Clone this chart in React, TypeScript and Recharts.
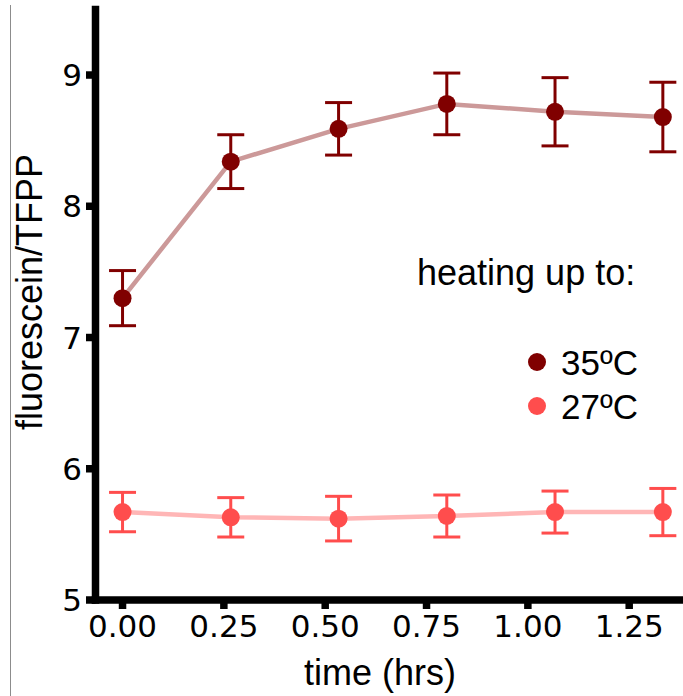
import React from 'react';
import { ComposedChart, Line, XAxis, YAxis, ErrorBar, Legend } from 'recharts';

// ---- data ----
const timeHrs = [0, 0.267, 0.533, 0.8, 1.067, 1.333];
const heat35 = [7.3, 8.34, 8.59, 8.78, 8.72, 8.68];
const heat35Err = [0.21, 0.205, 0.2, 0.235, 0.26, 0.265];
const heat27 = [5.67, 5.63, 5.62, 5.64, 5.67, 5.67];
const heat27Err = [0.15, 0.15, 0.17, 0.16, 0.16, 0.18];
const xTicks = [0, 0.25, 0.5, 0.75, 1.0, 1.25];
const yTicks = [5, 6, 7, 8, 9];
const seriesNames = ['35ºC', '27ºC'];
const legendTitle = 'heating up to:';
const xTitle = 'time (hrs)';
const yTitle = 'fluorescein/TFPP';

const data = timeHrs.map((t, i) => ({
  time: t,
  hot: heat35[i],
  hotErr: heat35Err[i],
  cool: heat27[i],
  coolErr: heat27Err[i],
}));

// ---- styles ----
const HOT = '#800000';
const HOT_LINE = '#cc9999';
const COOL = '#ff4d4d';
const COOL_LINE = '#ffb6b6';
const TITLE_FONT = '"Liberation Sans", Arial, sans-serif';
const TICK_FONT = '"DejaVu Sans", sans-serif';
const AXIS_W = 7.5;

const axisLine = { stroke: '#000', strokeWidth: AXIS_W, strokeLinecap: 'square' as const };
const tickLine = { stroke: '#000', strokeWidth: AXIS_W };
const tickStyle = { fontSize: 31, fontFamily: TICK_FONT, fill: '#000' };

const renderYTitle = () => (
  <text
    x={42}
    y={292}
    transform="rotate(-90, 42, 292)"
    textAnchor="middle"
    fontSize={36}
    fontFamily={TITLE_FONT}
    fill="#000"
  >
    {yTitle}
  </text>
);

const renderXTitle = () => (
  <text x={380} y={685} textAnchor="middle" fontSize={36} fontFamily={TITLE_FONT} fill="#000">
    {xTitle}
  </text>
);

const legendColors = [HOT, COOL];

const renderLegend = () => (
  <svg width={683} height={696} style={{ position: 'absolute', left: 0, top: 0, overflow: 'visible', pointerEvents: 'none' }}>
    <text x={417} y={285} fontSize={36} fontFamily={TITLE_FONT} fill="#000">
      {legendTitle}
    </text>
    {seriesNames.map((name, i) => (
      <g key={name}>
        <circle cx={537} cy={362 + i * 44} r={9} fill={legendColors[i]} />
        <text x={561} y={375 + i * 44} fontSize={35} fontFamily={TITLE_FONT} fill="#000">
          {name}
        </text>
      </g>
    ))}
  </svg>
);

export default function App() {
  return (
    <div
      style={{
        position: 'absolute',
        left: 0,
        top: 0,
        width: 683,
        height: 696,
        overflow: 'hidden',
        background: '#fff',
      }}
    >
      <div
        style={{ position: 'absolute', left: 10, top: 5, width: 1, height: 691, background: '#8c8c8c' }}
      />
      <ComposedChart
        width={700}
        height={696}
        data={data}
        margin={{ top: 9.4, right: 10, bottom: 0, left: 0 }}
      >
        <XAxis
          xAxisId="top"
          orientation="top"
          type="number"
          dataKey="time"
          domain={[-0.0667, 1.4]}
          allowDataOverflow
          height={0}
          tick={false}
          tickLine={false}
          axisLine={axisLine}
        />
        <XAxis
          dataKey="time"
          type="number"
          domain={[-0.0667, 1.4]}
          allowDataOverflow
          ticks={xTicks}
          tickFormatter={(v: number) => v.toFixed(2)}
          height={96}
          tickSize={9}
          tickMargin={6}
          tick={tickStyle}
          tickLine={tickLine}
          axisLine={axisLine}
          label={renderXTitle}
        />
        <YAxis
          type="number"
          domain={[5, 9.5]}
          allowDataOverflow
          ticks={yTicks}
          width={95.5}
          tickSize={9.5}
          tickMargin={4}
          tick={tickStyle}
          tickLine={tickLine}
          axisLine={axisLine}
          label={renderYTitle}
        />
        <Legend
          content={renderLegend}
          wrapperStyle={{ position: 'absolute', left: 0, top: 0, width: 0, height: 0, overflow: 'visible' }}
        />
        <Line
          name={seriesNames[0]}
          dataKey="hot"
          type="linear"
          stroke={HOT_LINE}
          strokeWidth={4.5}
          dot={{ r: 9, fill: HOT, stroke: 'none', strokeWidth: 0 }}
          activeDot={false}
          isAnimationActive={false}
        >
          <ErrorBar dataKey="hotErr" direction="y" width={13.5} strokeWidth={3} stroke={HOT} isAnimationActive={false} />
        </Line>
        <Line
          name={seriesNames[1]}
          dataKey="cool"
          type="linear"
          stroke={COOL_LINE}
          strokeWidth={4.5}
          dot={{ r: 9, fill: COOL, stroke: 'none', strokeWidth: 0 }}
          activeDot={false}
          isAnimationActive={false}
        >
          <ErrorBar dataKey="coolErr" direction="y" width={13.5} strokeWidth={3} stroke={COOL} isAnimationActive={false} />
        </Line>
      </ComposedChart>
    </div>
  );
}
